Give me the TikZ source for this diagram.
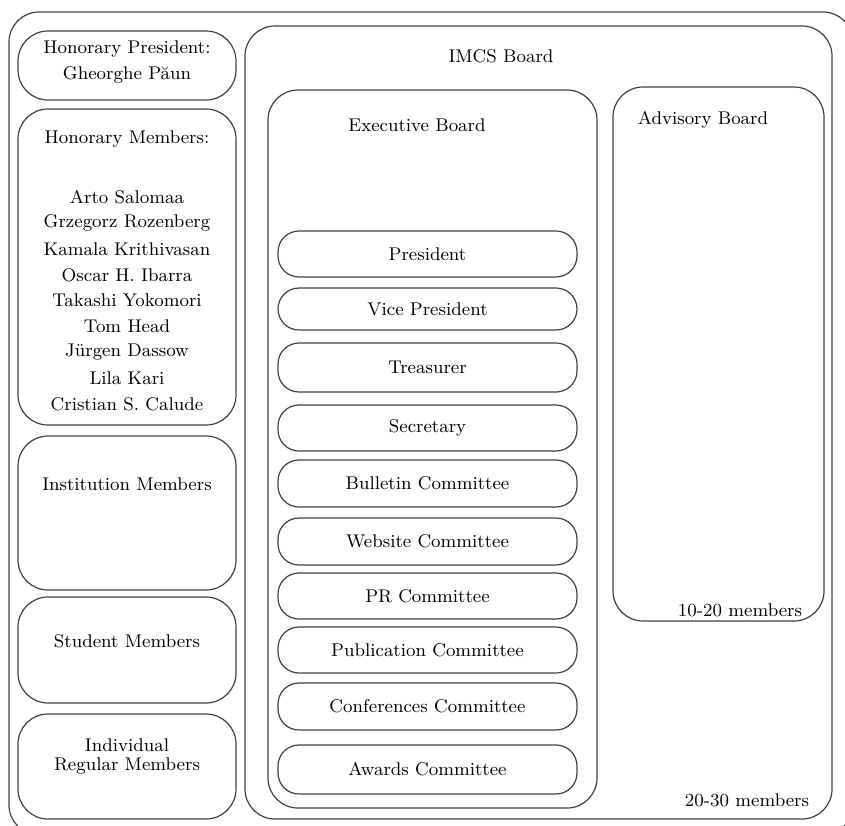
\documentclass[tikz,border=0pt]{standalone}
\usetikzlibrary{fit}
\begin{document}
\begin{tikzpicture}[x=0.5pt,y=-0.5pt,
  box/.style={draw=black!75, line width=0.6pt, rounded corners=15pt, inner sep=0pt},
  itembox/.style={draw=black!75, line width=0.6pt, rounded corners=10.5pt, inner sep=0pt,
    minimum width=149.5pt, font=\fontsize{9.2}{11}\selectfont},
  lbl/.style={font=\fontsize{9.2}{11}\selectfont, inner sep=0pt}]
\useasboundingbox (0,0) rectangle (845,825);
\clip (0,0) rectangle (845,825);
% outer frame (cropped on right and bottom)
\node[box, fit={(9,12)(853,835)}] (outer) {};
% left column
\node[box, fit={(18,31)(236,100)}] (hpres) {};
\node[lbl] (hpresa) at (127,49) {Honorary President:};
\node[lbl] (hpresb) at (127,75) {Gheorghe Păun};
\node[box, fit={(18,109)(236,425)}] (hmem) {};
\node[lbl] (hmemt) at (127,139) {Honorary Members:};
\node[lbl] (n1) at (127,197) {Arto Salomaa};
\node[lbl] (n2) at (127,223) {Grzegorz Rozenberg};
\node[lbl] (n3) at (127,249) {Kamala Krithivasan};
\node[lbl] (n4) at (127,275) {Oscar H. Ibarra};
\node[lbl] (n5) at (127,300) {Takashi Yokomori};
\node[lbl] (n6) at (127,326) {Tom Head};
\node[lbl] (n7) at (127,352) {Jürgen Dassow};
\node[lbl] (n8) at (127,378) {Lila Kari};
\node[lbl] (n9) at (127,404) {Cristian S. Calude};
\node[box, fit={(18,436)(236,590)}] (inst) {};
\node[lbl] (instt) at (127,484) {Institution Members};
\node[box, fit={(18,597)(236,703)}] (stud) {};
\node[lbl] (studt) at (127,641) {Student Members};
\node[box, fit={(18,714)(236,819)}] (indiv) {};
\node[lbl] (indiva) at (127,745) {Individual};
\node[lbl] (indivb) at (127,766) {Regular Members};
% IMCS board
\node[box, fit={(245,26)(832,819)}] (imcs) {};
\node[lbl] (imcst) at (501,56) {IMCS Board};
\node[lbl] (imcsn) at (747,800) {20-30 members};
% executive board
\node[box, fit={(268,90)(597,808)}] (exec) {};
\node[lbl] (exect) at (417,125) {Executive Board};
% advisory board
\node[box, fit={(613,87)(824,621)}] (adv) {};
\node[lbl] (advt) at (703,120) {Advisory Board};
\node[lbl] (advn) at (740,610) {10-20 members};
% executive members
\node[itembox, minimum height=23pt]   (pres)  at (427.5,254)   {President};
\node[itembox, minimum height=21pt]   (vpres) at (427.5,309)   {Vice President};
\node[itembox, minimum height=24.5pt] (treas) at (427.5,367.5) {Treasurer};
\node[itembox, minimum height=23pt]   (secr)  at (427.5,428)   {Secretary};
\node[itembox, minimum height=23.5pt] (bull)  at (427.5,483.5) {Bulletin Committee};
\node[itembox, minimum height=23.5pt] (web)   at (427.5,541.5) {Website Committee};
\node[itembox, minimum height=23pt]   (pr)    at (427.5,596)   {PR Committee};
\node[itembox, minimum height=23pt]   (pub)   at (427.5,650)   {Publication Committee};
\node[itembox, minimum height=23.5pt] (conf)  at (427.5,706.5) {Conferences Committee};
\node[itembox, minimum height=24.5pt] (award) at (427.5,769.5) {Awards Committee};
\end{tikzpicture}
\end{document}
